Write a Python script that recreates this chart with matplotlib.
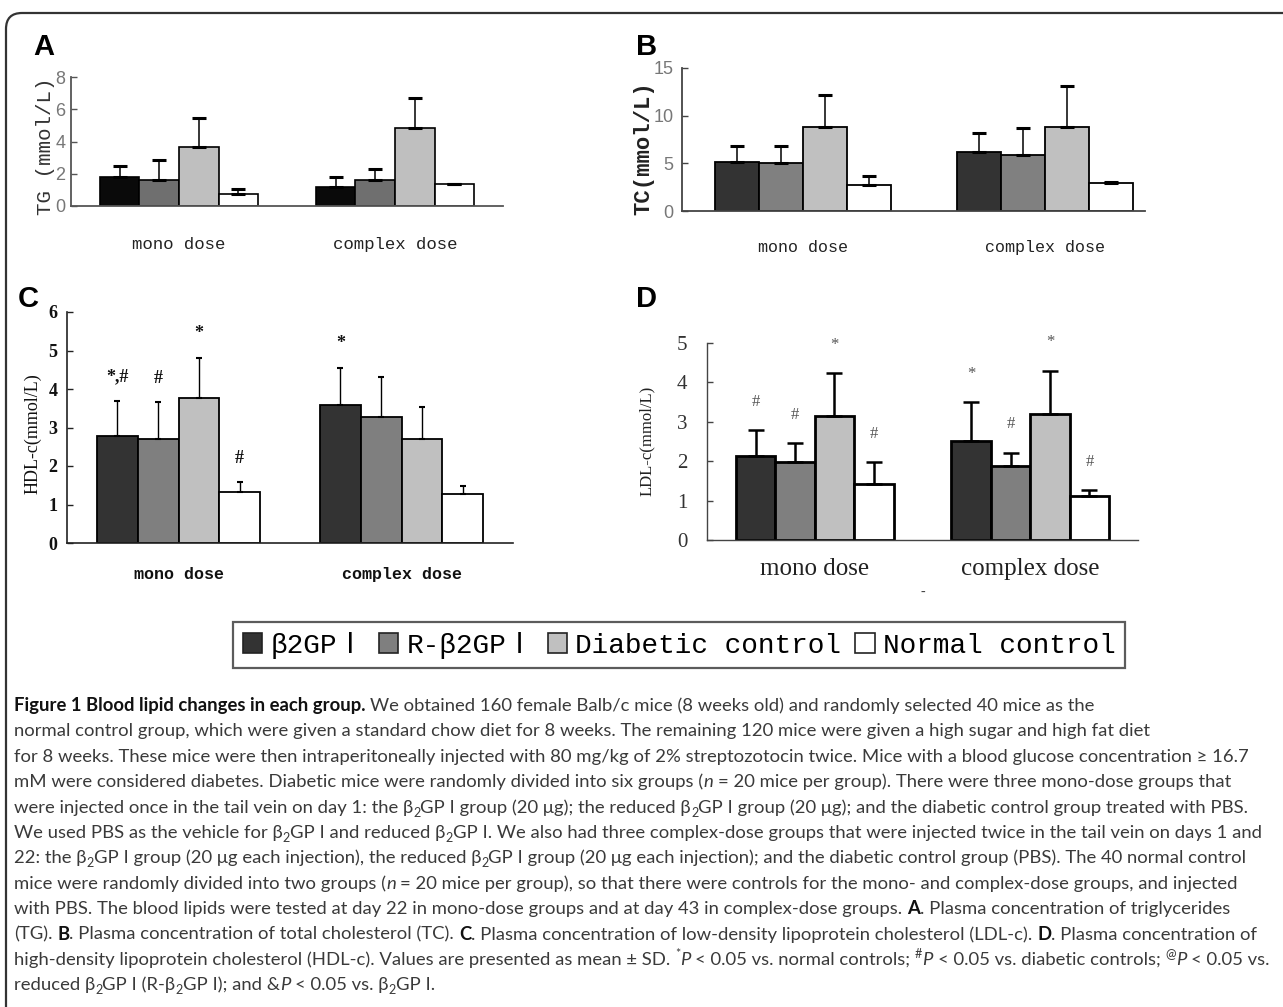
import matplotlib
matplotlib.use('Agg')
import matplotlib.pyplot as plt
from matplotlib.patches import Patch, FancyBboxPatch
from matplotlib.font_manager import FontProperties
import numpy as np

# ---------------- data ----------------
groups = ['mono dose', 'complex dose']
series = ['β2GPⅠ', 'R-β2GPⅠ', 'Diabetic control', 'Normal control']

# A: TG (mmol/L)
tg_b2gpi = [1.77, 1.18]
tg_r_b2gpi = [1.60, 1.62]
tg_diabetic = [3.66, 4.84]
tg_normal = [0.75, 1.35]
tg_b2gpi_sd = [0.70, 0.61]
tg_r_b2gpi_sd = [1.27, 0.69]
tg_diabetic_sd = [1.77, 1.83]
tg_normal_sd = [0.29, 0.0]

# B: TC (mmol/L)
tc_b2gpi = [5.19, 6.20]
tc_r_b2gpi = [5.05, 5.85]
tc_diabetic = [8.83, 8.83]
tc_normal = [2.73, 2.98]
tc_b2gpi_sd = [1.64, 1.97]
tc_r_b2gpi_sd = [1.78, 2.84]
tc_diabetic_sd = [3.33, 4.31]
tc_normal_sd = [0.99, 0.07]

# C: HDL-c (mmol/L)
hdl_b2gpi = [2.77, 3.58]
hdl_r_b2gpi = [2.70, 3.26]
hdl_diabetic = [3.76, 2.70]
hdl_normal = [1.32, 1.28]
hdl_b2gpi_sd = [0.92, 0.97]
hdl_r_b2gpi_sd = [0.95, 1.06]
hdl_diabetic_sd = [1.05, 0.82]
hdl_normal_sd = [0.26, 0.20]
hdl_marks_mono = ['*,#', '#', '*', '#']
hdl_marks_complex = ['*', '', '', '']

# D: LDL-c (mmol/L)
ldl_b2gpi = [2.12, 2.52]
ldl_r_b2gpi = [1.97, 1.88]
ldl_diabetic = [3.15, 3.20]
ldl_normal = [1.42, 1.12]
ldl_b2gpi_sd = [0.67, 0.97]
ldl_r_b2gpi_sd = [0.49, 0.34]
ldl_diabetic_sd = [1.09, 1.10]
ldl_normal_sd = [0.55, 0.15]
ldl_marks_mono = ['#', '#', '*', '#']
ldl_marks_complex = ['*', '#', '*', '#']

# ---------------- figure ----------------
W, H = 1283, 1007
DPI = 100
fig = plt.figure(figsize=(W / DPI, H / DPI), dpi=DPI)
fig.patch.set_facecolor('white')

MONO = ['Liberation Mono', 'Noto Sans CJK SC', 'DejaVu Sans']
NARROW = ['Liberation Sans Narrow', 'Liberation Sans', 'DejaVu Sans']
SERIF = ['Liberation Serif', 'DejaVu Serif']


def rect(l, r, ybot, ytop):
    return [l / W, 1 - ybot / H, (r - l) / W, (ybot - ytop) / H]


def bars(ax, means, sds, colors, width, lw, elw, caps, capthick, edge='black'):
    x = np.arange(len(groups)) + 0.5
    offs = (np.arange(4) - 1.5) * width
    for i in range(4):
        xi = x + offs[i]
        ax.bar(xi, means[i], width=width, color=colors[i], edgecolor=edge,
               linewidth=lw, zorder=2)
        ax.errorbar(xi, means[i], yerr=[np.zeros(len(groups)), sds[i]],
                    fmt='none', ecolor='black', elinewidth=elw, capsize=caps,
                    capthick=capthick, zorder=3)
    return x, offs


def style_axes(ax, xlim, ylim, yticks, spine_color='black', spine_lw=1.2):
    ax.set_xlim(*xlim)
    ax.set_ylim(*ylim)
    ax.set_yticks(yticks)
    ax.set_xticks(np.arange(len(groups)) + 0.5)
    ax.set_xticklabels(groups)
    for s in ['top', 'right']:
        ax.spines[s].set_visible(False)
    for s in ['left', 'bottom']:
        ax.spines[s].set_color(spine_color)
        ax.spines[s].set_linewidth(spine_lw)
    ax.tick_params(axis='x', length=0)
    ax.tick_params(axis='y', direction='in', length=4, width=1, color=spine_color)
    ax.patch.set_alpha(0)


bw = 0.183

# ---- Panel A ----
axA = fig.add_axes(rect(71, 503, 206, 77))
colsA = ['#0a0a0a', '#6f6f6f', '#bfbfbf', '#ffffff']
bars(axA, [tg_b2gpi, tg_r_b2gpi, tg_diabetic, tg_normal],
     [tg_b2gpi_sd, tg_r_b2gpi_sd, tg_diabetic_sd, tg_normal_sd],
     colsA, bw, 1.2, 1.1, 5, 2.2)
style_axes(axA, (0, 2), (0, 8), [0, 2, 4, 6, 8], spine_color='#555', spine_lw=1.3)
axA.tick_params(axis='x', pad=22, labelsize=12.5, labelcolor='#222')
axA.tick_params(axis='y', pad=4, labelsize=13, labelcolor='#777')
for t in axA.get_xticklabels():
    t.set_family(MONO)
for t in axA.get_yticklabels():
    t.set_family(NARROW)
axA.set_ylabel('TG (mmol/L)', family=MONO, fontsize=15, color='#333')
axA.yaxis.set_label_coords(-0.058, 0.465)
axA.yaxis.label.set_va('center')

# ---- Panel B ----
axB = fig.add_axes(rect(682, 1145, 211, 68))
colsB = ['#333333', '#808080', '#c0c0c0', '#ffffff']
bars(axB, [tc_b2gpi, tc_r_b2gpi, tc_diabetic, tc_normal],
     [tc_b2gpi_sd, tc_r_b2gpi_sd, tc_diabetic_sd, tc_normal_sd],
     colsB, bw * 0.99, 1.3, 1.1, 5, 2.2)
style_axes(axB, (0, 1.913), (0, 15), [0, 5, 10, 15], spine_color='#444', spine_lw=1.3)
axB.tick_params(axis='x', pad=21, labelsize=12, labelcolor='#222')
axB.tick_params(axis='y', pad=6, labelsize=13, labelcolor='#777')
for t in axB.get_xticklabels():
    t.set_family(MONO)
for t in axB.get_yticklabels():
    t.set_family(NARROW)
axB.set_ylabel('TC(mmol/L)', family=MONO, fontsize=16, fontweight='bold', color='#222')
axB.yaxis.set_label_coords(-0.082, 0.437)
axB.yaxis.label.set_va('center')

# ---- Panel C ----
axC = fig.add_axes(rect(67, 513, 543, 312))
colsC = ['#333333', '#7f7f7f', '#c0c0c0', '#ffffff']
xc, oc = bars(axC, [hdl_b2gpi, hdl_r_b2gpi, hdl_diabetic, hdl_normal],
              [hdl_b2gpi_sd, hdl_r_b2gpi_sd, hdl_diabetic_sd, hdl_normal_sd],
              colsC, bw, 1.3, 1.0, 2.5, 1.5)
style_axes(axC, (0, 2), (0, 6), [0, 1, 2, 3, 4, 5, 6], spine_color='#222', spine_lw=1.2)
axC.tick_params(axis='x', pad=17, labelsize=12, labelcolor='#111')
axC.tick_params(axis='y', pad=7, labelsize=13, labelcolor='#111')
for t in axC.get_xticklabels():
    t.set_family(MONO)
    t.set_fontweight('bold')
for t in axC.get_yticklabels():
    t.set_family(SERIF)
    t.set_fontweight('bold')
axC.set_ylabel('HDL-c(mmol/L)', family=SERIF, fontsize=13, color='#111')
axC.yaxis.set_label_coords(-0.076, 0.472)
axC.yaxis.label.set_va('center')
hdl_means = [hdl_b2gpi, hdl_r_b2gpi, hdl_diabetic, hdl_normal]
hdl_sds = [hdl_b2gpi_sd, hdl_r_b2gpi_sd, hdl_diabetic_sd, hdl_normal_sd]
for g, marks in enumerate([hdl_marks_mono, hdl_marks_complex]):
    for i, m in enumerate(marks):
        if m:
            axC.text(xc[g] + oc[i], hdl_means[i][g] + hdl_sds[i][g] + 0.62, m,
                     ha='center', va='center', family=SERIF, fontsize=13,
                     fontweight='bold', color='#111')

# ---- Panel D ----
axD = fig.add_axes(rect(707, 1138, 540, 343))
colsD = ['#333333', '#7f7f7f', '#c0c0c0', '#ffffff']
xd, od = bars(axD, [ldl_b2gpi, ldl_r_b2gpi, ldl_diabetic, ldl_normal],
              [ldl_b2gpi_sd, ldl_r_b2gpi_sd, ldl_diabetic_sd, ldl_normal_sd],
              colsD, bw, 2.0, 1.8, 5.5, 1.8)
style_axes(axD, (0, 2), (0, 5), [0, 1, 2, 3, 4, 5], spine_color='#444', spine_lw=1.0)
axD.tick_params(axis='x', pad=13, labelsize=18, labelcolor='#222')
axD.tick_params(axis='y', pad=14, labelsize=15, labelcolor='#333')
for t in axD.get_xticklabels() + axD.get_yticklabels():
    t.set_family(SERIF)
axD.set_ylabel('LDL-c(mmol/L)', family=SERIF, fontsize=12, color='#222')
axD.yaxis.set_label_coords(-0.139, 0.503)
axD.yaxis.label.set_va('center')
axD.set_xlabel('-', family=SERIF, fontsize=10, color='#444', labelpad=4)
ldl_means = [ldl_b2gpi, ldl_r_b2gpi, ldl_diabetic, ldl_normal]
ldl_sds = [ldl_b2gpi_sd, ldl_r_b2gpi_sd, ldl_diabetic_sd, ldl_normal_sd]
for g, marks in enumerate([ldl_marks_mono, ldl_marks_complex]):
    for i, m in enumerate(marks):
        if m:
            axD.text(xd[g] + od[i], ldl_means[i][g] + ldl_sds[i][g] + 0.72, m,
                     ha='center', va='center', family=SERIF, fontsize=12,
                     color='#555')

# ---- panel letters ----
for lab, (px, py) in zip('ABCD', [(33, 33), (636, 33), (18, 285), (636, 285)]):
    fig.text(px / W, 1 - py / H, lab, family=['Liberation Sans', 'DejaVu Sans'],
             fontsize=21, fontweight='bold', ha='left', va='top', color='black')

# ---- border ----
border = FancyBboxPatch((0.06, -0.6), 13.5, (H - 13) / DPI + 0.6,
                        boxstyle='round,pad=0,rounding_size=0.16',
                        transform=fig.dpi_scale_trans, facecolor='none',
                        edgecolor='#333333', linewidth=1.6, clip_on=False)
fig.add_artist(border)

# ---- legend ----
leg_cols = ['#333333', '#7f7f7f', '#c0c0c0', '#ffffff']
handles = [Patch(facecolor=c, edgecolor='#222222', linewidth=1.2) for c in leg_cols]
leg = fig.legend(handles, series, loc='upper left',
                 bbox_to_anchor=(233 / W, 1 - 622 / H), ncol=4,
                 prop=FontProperties(family=MONO, size=20),
                 frameon=True, fancybox=False, edgecolor='#333333',
                 handlelength=0.7, handleheight=0.7, handletextpad=0.3,
                 columnspacing=0.5, borderpad=0.35, borderaxespad=0)
leg.get_frame().set_linewidth(1.6)

# ---- caption ----
caption = [
    [("Figure 1 Blood lipid changes in each group.", 'b'),
     (" We obtained 160 female Balb/c mice (8 weeks old) and randomly selected 40 mice as the", 'n')],
    [("normal control group, which were given a standard chow diet for 8 weeks. The remaining 120 mice were given a high sugar and high fat diet", 'n')],
    [("for 8 weeks. These mice were then intraperitoneally injected with 80 mg/kg of 2% streptozotocin twice. Mice with a blood glucose concentration ≥ 16.7", 'n')],
    [("mM were considered diabetes. Diabetic mice were randomly divided into six groups (", 'n'), ("n", 'i'),
     (" = 20 mice per group). There were three mono-dose groups that", 'n')],
    [("were injected once in the tail vein on day 1: the β", 'n'), ("2", 'sub'),
     ("GP I group (20 μg); the reduced β", 'n'), ("2", 'sub'),
     ("GP I group (20 μg); and the diabetic control group treated with PBS.", 'n')],
    [("We used PBS as the vehicle for β", 'n'), ("2", 'sub'), ("GP I and reduced β", 'n'), ("2", 'sub'),
     ("GP I. We also had three complex-dose groups that were injected twice in the tail vein on days 1 and", 'n')],
    [("22: the β", 'n'), ("2", 'sub'), ("GP I group (20 μg each injection), the reduced β", 'n'), ("2", 'sub'),
     ("GP I group (20 μg each injection); and the diabetic control group (PBS). The 40 normal control", 'n')],
    [("mice were randomly divided into two groups (", 'n'), ("n", 'i'),
     (" = 20 mice per group), so that there were controls for the mono- and complex-dose groups, and injected", 'n')],
    [("with PBS. The blood lipids were tested at day 22 in mono-dose groups and at day 43 in complex-dose groups. ", 'n'),
     ("A", 'b'), (". Plasma concentration of triglycerides", 'n')],
    [("(TG). ", 'n'), ("B", 'b'), (". Plasma concentration of total cholesterol (TC). ", 'n'), ("C", 'b'),
     (". Plasma concentration of low-density lipoprotein cholesterol (LDL-c). ", 'n'), ("D", 'b'),
     (". Plasma concentration of", 'n')],
    [("high-density lipoprotein cholesterol (HDL-c). Values are presented as mean ± SD. ", 'n'), ("*", 'sup'),
     ("P", 'i'), (" < 0.05 vs. normal controls; ", 'n'), ("#", 'sup'), ("P", 'i'),
     (" < 0.05 vs. diabetic controls; ", 'n'), ("@", 'sup'), ("P", 'i'), (" < 0.05 vs.", 'n')],
    [("reduced β", 'n'), ("2", 'sub'), ("GP I (R-β", 'n'), ("2", 'sub'), ("GP I); and &", 'n'), ("P", 'i'),
     (" < 0.05 vs. β", 'n'), ("2", 'sub'), ("GP I.", 'n')],
]

CAP = ['Lato', 'DejaVu Sans']
renderer = fig.canvas.get_renderer()


def prop_for(style, size):
    if style == 'b':
        return FontProperties(family=CAP, weight='bold', size=size)
    if style == 'i':
        return FontProperties(family=CAP, style='italic', size=size)
    if style in ('sub', 'sup'):
        return FontProperties(family=CAP, size=size * 0.68)
    return FontProperties(family=CAP, size=size)


def text_w(s, prop):
    w, h, d = renderer.get_text_width_height_descent(s, prop, ismath=False)
    return w


def adv(s, prop):
    return text_w('|' + s + '|', prop) - text_w('||', prop)


def line_width(runs, size):
    return sum(adv(t, prop_for(st, size)) for t, st in runs)


x0_cap = 14
size0 = 12.0
widest = max(line_width(r, size0) for r in caption)
cap_size = size0 * (1266 - x0_cap) / widest


def draw_line(runs, x, ybase, size):
    px_per_pt = DPI / 72.0
    for t, st in runs:
        p = prop_for(st, size)
        dy = 0.0
        if st == 'sub':
            dy = -0.22 * size * px_per_pt
        elif st == 'sup':
            dy = 0.40 * size * px_per_pt
        lead = len(t) - len(t.lstrip(' '))
        core = t.strip(' ')
        if core:
            col = '#111111' if st == 'b' else '#3a3a3a'
            fig.text((x + adv(' ' * lead, p)) / W, 1 - (ybase - dy) / H, core,
                     fontproperties=p, color=col, ha='left', va='baseline')
        x += adv(t, p)


first_base = 711
line_step = 25.4
for k, runs in enumerate(caption):
    draw_line(runs, x0_cap, first_base + k * line_step, cap_size)

fig.savefig('out.png', dpi=DPI, facecolor='white')
